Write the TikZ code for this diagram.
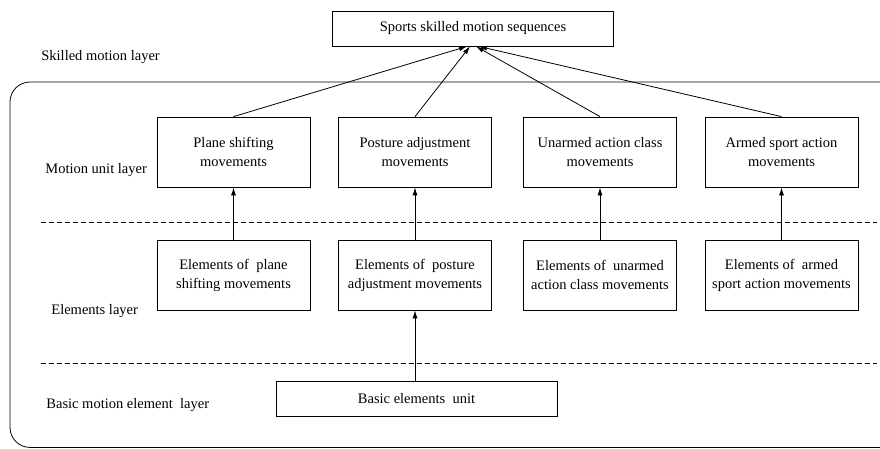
\documentclass[tikz,border=0pt]{standalone}
\usepackage{fontspec}
\setmainfont{Liberation Serif}
\usetikzlibrary{arrows.meta}

\begin{document}
\begin{tikzpicture}[x=1pt,y=-1pt,line width=0.8pt,
		font=\fontsize{14.5}{19}\selectfont,
		>={Latex[length=8pt,width=5pt]},
		unitbox/.style={draw, align=center, minimum width=153pt, minimum height=70pt, inner sep=2pt},
		widebox/.style={draw, minimum width=281pt, minimum height=35pt, inner sep=2pt},
		layer/.style={anchor=west, inner sep=0pt},
		divider/.style={dash pattern=on 5pt off 3pt}]
		\clip (0,0) rectangle (880,448);

		% outer frame and layer borders
		\draw[rounded corners=20pt] (10,82) rectangle (910,447.4);
		\draw[divider] (41,222) -- (877,222);
		\draw[divider] (41,363) -- (877,363);

		\draw (473,28.5) node [widebox] (top) {Sports skilled motion sequences};

		\draw (233.5,152) node [unitbox] (m1) {Plane shifting\\movements};
		\draw (415,152) node [unitbox] (m2) {Posture adjustment\\movements};
		\draw (600,152) node [unitbox] (m3) {Unarmed action class\\movements};
		\draw (781.5,152) node [unitbox] (m4) {Armed sport action\\movements};

		\draw (233.5,275) node [unitbox] (e1) {Elements of~ plane\\shifting movements};
		\draw (415,275) node [unitbox] (e2) {Elements of~ posture\\adjustment movements};
		\draw (600,275) node [unitbox] (e3) {Elements of~ unarmed\\action class movements};
		\draw (781.5,275) node [unitbox] (e4) {Elements of~ armed\\sport action movements};

		\draw (416.5,398.5) node [widebox] (base) {Basic elements~ unit};

		\draw (41,57) node [layer] (l1) {Skilled motion layer};
		\draw (45,170) node [layer] (l2) {Motion unit layer};
		\draw (51,311) node [layer] (l3) {Elements layer};
		\draw (46,405) node [layer] (l4) {Basic motion element~ layer};

		\draw[->] (m1.north) -- ([xshift=-6pt]top.south);
		\draw[->] (m2.north) -- ([xshift=-3pt]top.south);
		\draw[->] (m3.north) -- ([xshift=3pt]top.south);
		\draw[->] (m4.north) -- ([xshift=6pt]top.south);

		\draw[->]
		(e1) edge (m1)
		(e2) edge (m2)
		(e3) edge (m3)
		(e4) edge (m4);
		\draw[->] (e2.south |- base.north) -- (e2.south);
	\end{tikzpicture}
\end{document}
